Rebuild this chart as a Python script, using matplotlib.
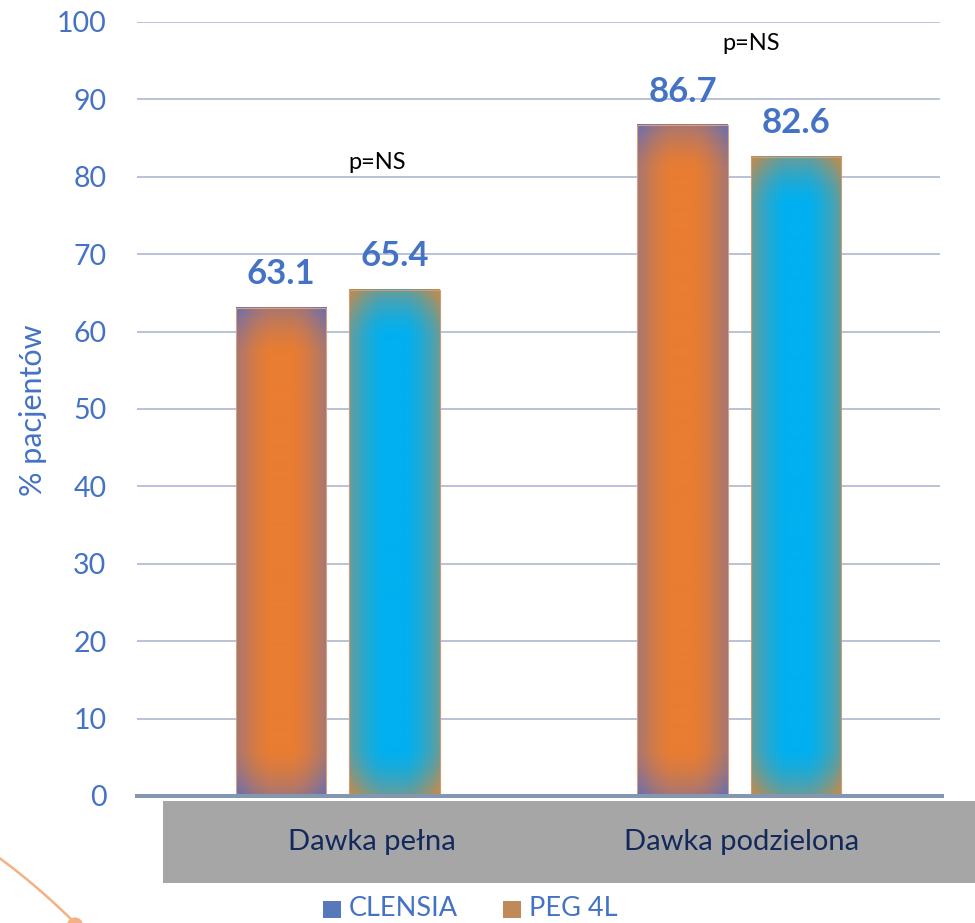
import numpy as np
import matplotlib
matplotlib.use('Agg')
import matplotlib.pyplot as plt
from matplotlib.patches import Rectangle
from matplotlib.lines import Line2D

plt.rcParams['font.family'] = ['Lato', 'DejaVu Sans']

categories = ['Dawka pełna', 'Dawka podzielona']
series_names = ['CLENSIA', 'PEG 4L']
peg_values = [63.1, 86.7]       # orange bars
clensia_values = [65.4, 82.6]   # blue bars
p_labels = ['p=NS', 'p=NS']
yticks = list(range(0, 101, 10))

W, H = 975, 923
fig = plt.figure(figsize=(W / 100, H / 100), dpi=100)
ax = fig.add_axes([137 / W, 1 - 796 / H, (940 - 137) / W, (796 - 22) / H])

BLUE_TXT = '#4472C4'
bar_w = 0.226
offset = 0.1414
px_x = 403.0          # pixels per category unit
px_y = 7.74           # pixels per percent


def glow_bar(ax, xc, val, fill, edge, outline):
    """Bar with an Office-like path gradient: fill colour in the middle,
    fading to the edge colour towards the border."""
    wpx = int(round(bar_w * px_x))
    hpx = max(int(round(val * px_y)), 2)
    i = np.arange(wpx)
    j = np.arange(hpx)
    dx = np.minimum(i, wpx - 1 - i)[None, :].astype(float)
    dy = np.minimum(j, hpx - 1 - j)[:, None].astype(float)
    fx = np.clip(1 - dx / 36.0, 0, 1) ** 1.6
    fy = np.clip(1 - dy / 48.0, 0, 1) ** 1.6
    m = np.clip(0.55 * (fx + fy), 0, 1)[..., None]
    fill = np.array(fill, float) / 255
    edge = np.array(edge, float) / 255
    img = fill * (1 - m) + edge * m
    x0 = xc - bar_w / 2
    ax.imshow(img, extent=(x0, x0 + bar_w, 0, val), origin='lower',
              aspect='auto', interpolation='bilinear', zorder=2)
    ax.add_patch(Rectangle((x0, 0), bar_w, val, fill=False,
                           edgecolor=outline, lw=0.8, zorder=3))


x = np.arange(len(categories))
for k in range(len(categories)):
    glow_bar(ax, x[k] - offset, peg_values[k], (233, 125, 49), (112, 112, 170), '#D9A07C')
    glow_bar(ax, x[k] + offset, clensia_values[k], (0, 176, 240), (190, 140, 80), '#C99E78')

# value labels above bars
for k in range(len(categories)):
    for xv, v in ((x[k] - offset, peg_values[k]), (x[k] + offset, clensia_values[k])):
        ax.annotate(f'{v:.1f}', (xv, v), xytext=(0, 24), textcoords='offset points',
                    ha='center', va='center', fontsize=25, fontweight='bold',
                    color=BLUE_TXT, zorder=5)

# significance notes
ax.text(0.098, 81.9, p_labels[0], ha='center', va='center', fontsize=17, color='black')
ax.text(1.0286, 97.2, p_labels[1], ha='center', va='center', fontsize=17, color='black')

ax.set_xlim(-0.5, 1.5)
ax.set_ylim(0, 100)
ax.set_yticks(yticks)
ax.set_xticks([])
ax.tick_params(axis='y', length=0, pad=22, labelsize=20.5, labelcolor=BLUE_TXT)
ax.grid(axis='y', color='#B9C3D5', lw=1.4, zorder=0)
ax.set_axisbelow(True)
for s in ax.spines.values():
    s.set_visible(False)
ax.axhline(0, xmax=1.003, color='#8497B0', lw=2.9, zorder=4, clip_on=False)

# y axis title
fig.text(33 / W, 1 - 410 / H, '% pacjentów', rotation=90, ha='center', va='center',
         fontsize=22, color=BLUE_TXT)

# grey category band
fig.patches.append(Rectangle((163 / W, 1 - 883 / H), (W - 163) / W, 82 / H,
                             transform=fig.transFigure, facecolor='#A6A6A6',
                             edgecolor='none', zorder=0))
for cx, lab in zip((372, 742), categories):
    fig.text(cx / W, 1 - 842 / H, lab, ha='center', va='center', fontsize=21,
             color='#13295C')

# legend below the band
legend_items = [(323, '#5878BC', series_names[0]), (503, '#C0895A', series_names[1])]
for lx, col, name in legend_items:
    fig.patches.append(Rectangle((lx / W, 1 - 918 / H), 18 / W, 17 / H,
                                 transform=fig.transFigure, facecolor=col,
                                 edgecolor='none'))
    fig.text((lx + 26) / W, 1 - 909 / H, name, ha='left', va='center',
             fontsize=19.5, color=BLUE_TXT)

# decorative orange arc in the lower-left corner
t = np.linspace(0, 1, 30)
cx_ = -2 + 77 * t
cy_ = 857 + 56 * t + 10 * t ** 2
fig.lines.append(Line2D(cx_ / W, 1 - cy_ / H, transform=fig.transFigure,
                        color='#F4B183', lw=1.8))
fig.patches.append(plt.Circle((75 / W, 1 - 925 / H), 8 / W, transform=fig.transFigure,
                              facecolor='#F4B183', edgecolor='none'))

fig.savefig('out.png', dpi=100, facecolor='white')
